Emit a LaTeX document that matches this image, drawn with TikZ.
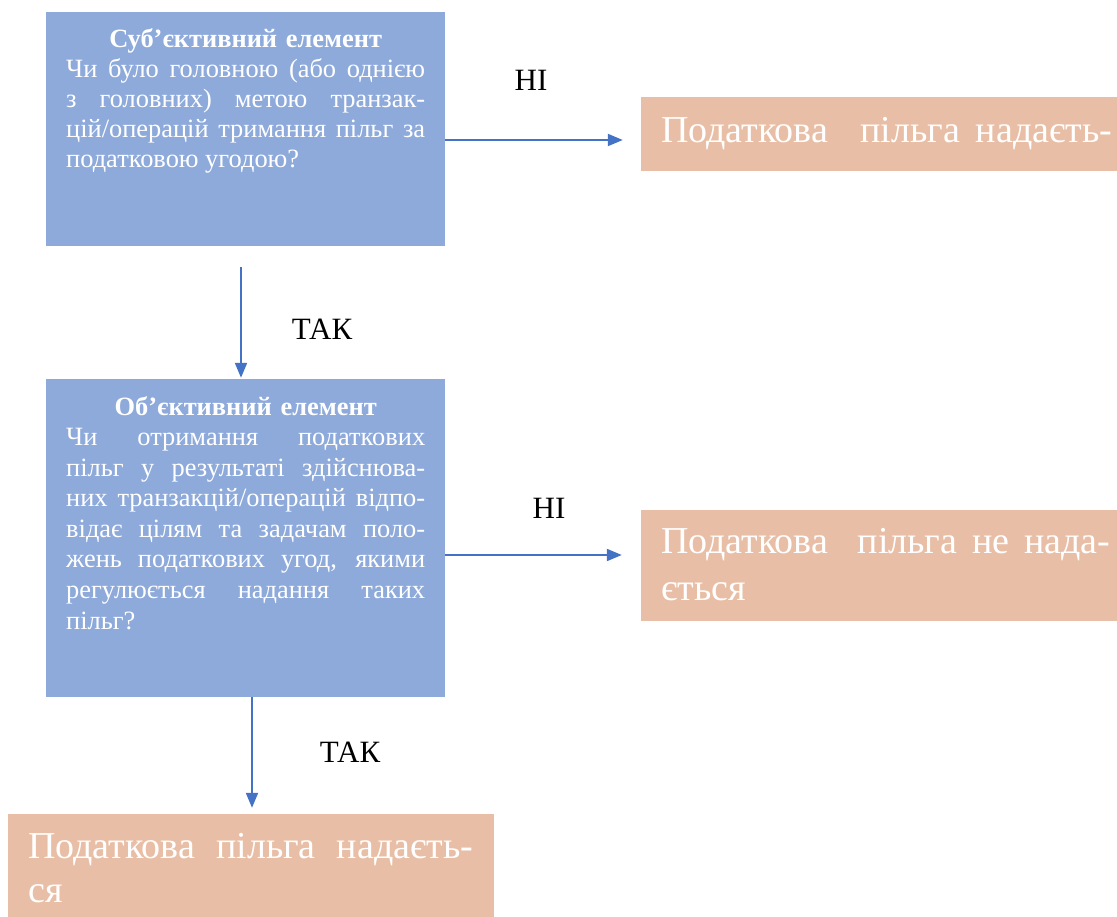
\documentclass[tikz,border=0pt]{standalone}
\usepackage{fontspec}
\setmainfont{Liberation Serif}
\usetikzlibrary{arrows.meta}
\definecolor{boxblue}{HTML}{8EAADB}
\definecolor{boxorange}{HTML}{E8BFA6}
\definecolor{arrblue}{HTML}{4472C4}
\newcommand\jline[2]{{\spaceskip=0pt\xspaceskip=0pt\makebox[#1][s]{#2}}}
\newcommand\lastline[2]{{\spaceskip=0pt\xspaceskip=0pt\makebox[#1][l]{#2}}}
\begin{document}
\begin{tikzpicture}[x=1pt,y=-1pt,
  qbox/.style={fill=boxblue, draw=none, inner sep=0pt, minimum width=399pt},
  abox/.style={fill=boxorange, draw=none, inner sep=0pt},
  qtext/.style={text=white, inner sep=0pt, anchor=base west, text width=359pt, font=\fontsize{26.4}{30}\selectfont},
  atext/.style={text=white, inner sep=0pt, anchor=base west, text width=451pt, font=\fontsize{38}{46}\selectfont},
  arr/.style={draw=arrblue, line width=2pt, -{Triangle[length=15pt,width=12pt]}},
  lbl/.style={font=\fontsize{31}{36}\selectfont, inner sep=0pt, text=black}
]
\useasboundingbox (0,0) rectangle (1117,917);
% boxes
\node[qbox, minimum height=234pt] (b1) at (245.5,129) {};
\node[qbox, minimum height=318pt] (b2) at (245.5,538) {};
\node[abox, minimum width=476pt, minimum height=74pt] (o1) at (879,134) {};
\node[abox, minimum width=476pt, minimum height=111pt] (o2) at (879,565.5) {};
\node[abox, minimum width=486pt, minimum height=103pt] (o3) at (251,865.5) {};
% texts
\node[qtext] (t1) at (66,48) {\makebox[359pt][c]{\bfseries Суб’єктивний елемент}\\
\jline{359pt}{Чи було головною (або однією}\\
\jline{359pt}{з головних) метою транзак-}\\
\jline{359pt}{цій/операцій тримання пільг за}\\
\lastline{359pt}{податковою угодою?}};
\node[qtext, font=\fontsize{26.4}{30.6}\selectfont] (t2) at (66,415) {\makebox[359pt][c]{\bfseries Об’єктивний елемент}\\
\jline{359pt}{Чи отримання податкових}\\
\jline{359pt}{пільг у результаті здійснюва-}\\
\jline{359pt}{них транзакцій/операцій відпо-}\\
\jline{359pt}{відає цілям та задачам поло-}\\
\jline{359pt}{жень податкових угод, якими}\\
\jline{359pt}{регулюється надання таких}\\
\lastline{359pt}{пільг?}};
\node[atext] (a1) at (661,143) {\jline{451pt}{Податкова\ \ пільга надаєть-}};
\node[atext, text width=449pt, font=\fontsize{38}{47}\selectfont] (a2) at (661,553) {\jline{449pt}{Податкова\ \ пільга не нада-}\\
\lastline{449pt}{ється}};
\node[atext, text width=445pt, font=\fontsize{38}{44}\selectfont] (a3) at (28,858) {\jline{445pt}{Податкова пільга надаєть-}\\
\lastline{445pt}{ся}};
% arrows
\draw[arr] ([yshift=-11pt]b1.east) -- ([xshift=-18pt,yshift=-6pt]o1.west);
\draw[arr] ([xshift=-4.5pt,yshift=-21pt]b1.south) -- ([xshift=-4.5pt,yshift=1pt]b2.north);
\draw[arr] ([yshift=-17pt]b2.east) -- ([xshift=-19pt,yshift=10.5pt]o2.west);
\draw[arr] ([xshift=6.5pt]b2.south) -- ([xshift=1pt,yshift=6pt]o3.north);
% labels
\node[lbl] (n1) at (531,80) {НІ};
\node[lbl] (y1) at (322,329) {ТАК};
\node[lbl] (n2) at (549,508) {НІ};
\node[lbl] (y2) at (350,752) {ТАК};
\end{tikzpicture}
\end{document}
